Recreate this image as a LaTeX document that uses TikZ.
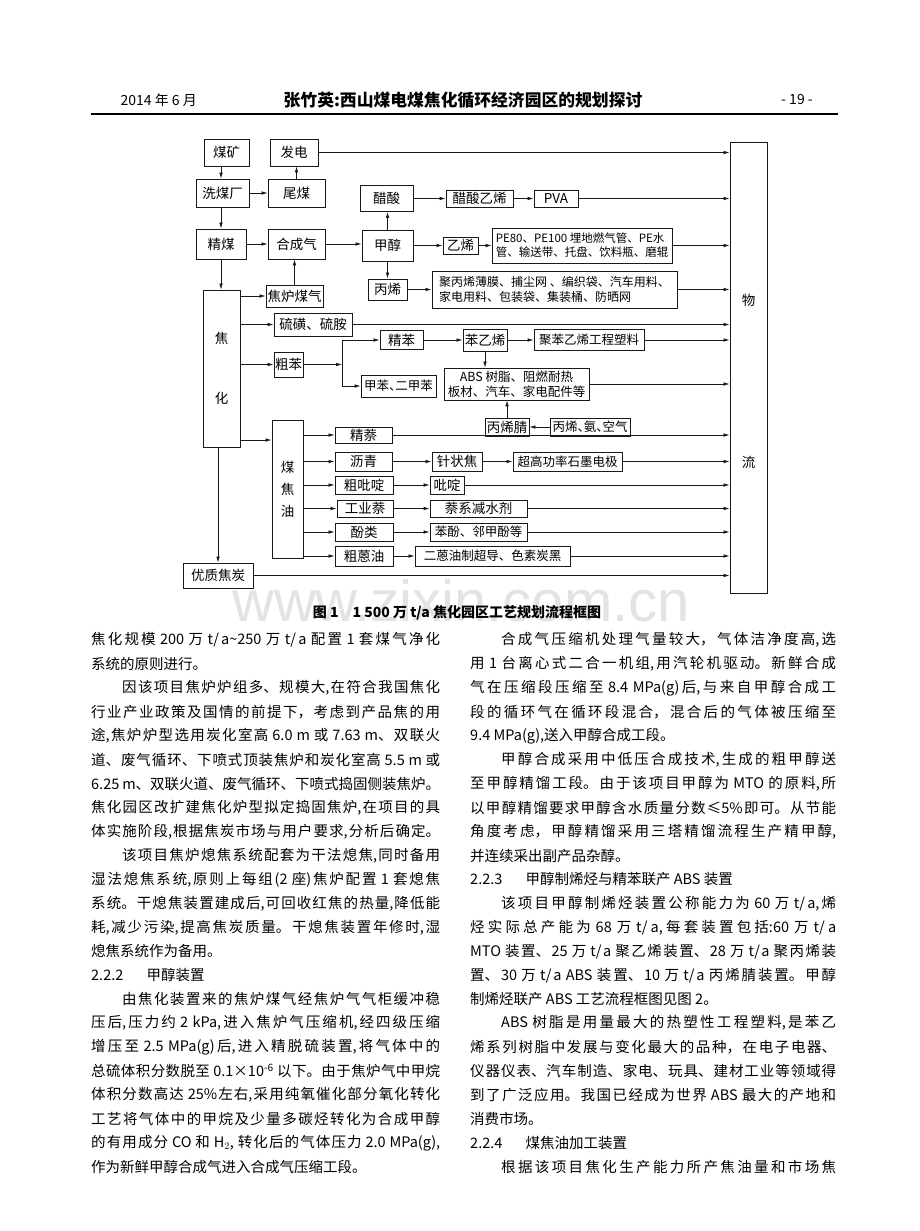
\documentclass[tikz,border=0pt]{standalone}
\usepackage{fontspec}
\setmainfont{Noto Sans CJK SC}
\newfontfamily\wmfont{Liberation Sans}
\usetikzlibrary{arrows.meta}

\XeTeXlinebreaklocale "zh"
\XeTeXlinebreakskip=0pt plus 3pt

\def\colw{349pt}
\newcommand\jline[1]{\parbox{\colw}{\parfillskip=0pt\relax #1}}
\newcommand\pline[1]{\parbox{\colw}{\parfillskip=0pt\relax\hspace*{31pt}#1}}
\newcommand\tline[1]{#1}
\newcommand\halfdun{\makebox[.5em][l]{、}}

\begin{document}
\begin{tikzpicture}[x=1pt,y=-1pt,>={Latex[length=6pt,width=3.6pt]}]
        \tikzstyle{unit}=[draw=black!90, line width=0.9pt, inner sep=1pt, align=center, font=\fontsize{13.5}{16}\selectfont]
        \tikzstyle{small}=[font=\fontsize{12.5}{14.5}\selectfont]
        \tikzstyle{flow}=[->, draw=black!90, line width=0.7pt]
        \tikzstyle{bodyline}=[anchor=west, inner sep=0pt, font=\fontsize{14.5}{17}\selectfont]

        \fill[white] (0,0) rectangle (920,1231);
        \useasboundingbox (0,0) rectangle (920,1231);

        % watermark
        \node[text=black!11, font=\wmfont\fontsize{58}{60}\selectfont] (wmark) at (461,601) {www.zixin.com.cn};

        % page head
        \node[anchor=west, font=\fontsize{14}{16}\selectfont] (date) at (117,100) {2014 年 6 月};
        \node[font=\bfseries\fontsize{16.8}{18}\selectfont] (title) at (463,100) {张竹英:西山煤电煤焦化循环经济园区的规划探讨};
        \node[font=\fontsize{14}{16}\selectfont] (page) at (797,100) {- 19 -};
        \draw[line width=1.4pt] (91,114) -- (838,114);

        % coal line
        \node[unit, minimum width=45, minimum height=27] (mine) at (226.5,152.5) {煤矿};
        \node[unit, minimum width=48, minimum height=27] (power) at (294,152.5) {发电};
        \node[unit, minimum width=53, minimum height=28] (washery) at (222.5,193) {洗煤厂};
        \node[unit, minimum width=57, minimum height=28] (tailcoal) at (296.5,193) {尾煤};
        \node[unit, minimum width=50, minimum height=30] (cleancoal) at (221,244) {精煤};
        \node[unit, minimum width=57, minimum height=30] (syngas) at (296.5,244) {合成气};

        % methanol line
        \node[unit, minimum width=53, minimum height=26] (acetic) at (386.5,198.5) {醋酸};
        \node[unit, minimum width=67, minimum height=17] (vac) at (479.5,198.5) {醋酸乙烯};
        \node[unit, minimum width=44, minimum height=17] (pva) at (556,198.5) {PVA};
        \node[unit, minimum width=51, minimum height=31] (methanol) at (387.5,245.5) {甲醇};
        \node[unit, minimum width=35, minimum height=17] (ethylene) at (460.5,245.5) {乙烯};
        \node[unit, minimum width=180, minimum height=35, align=left, font=\fontsize{11.5}{14}\selectfont] (pe) at (582,245.5) {PE80、PE100 埋地燃气管、PE水\\管、输送带、托盘、饮料瓶、磨辊};
        \node[unit, minimum width=39, minimum height=21] (propylene) at (387.5,289.5) {丙烯};
        \node[unit, minimum width=245, minimum height=37, align=left, font=\fontsize{12}{15}\selectfont] (pp) at (554.5,289.5) {聚丙烯薄膜、捕尘网 、编织袋、汽车用料、\\家电用料、包装袋、集装桶、防晒网};

        % coking line
        \node[unit, minimum width=37, minimum height=157] (coking) at (221.5,368.5) {焦\\[44pt]化};
        \node[unit, minimum width=57, minimum height=22] (cog) at (294.5,296) {焦炉煤气};
        \node[unit, minimum width=78, minimum height=23] (sulfur) at (313,324.5) {硫磺、硫胺};
        \node[unit, minimum width=29, minimum height=25] (crudebenz) at (288.5,364.5) {粗苯};
        \node[unit, minimum width=43, minimum height=19] (purebenz) at (401.5,340) {精苯};
        \node[unit, small, minimum width=75, minimum height=22] (toluene) at (398.5,386) {甲苯\halfdun 二甲苯};
        \node[unit, minimum width=44, minimum height=22] (styrene) at (485,340) {苯乙烯};
        \node[unit, small, minimum width=110, minimum height=21] (ps) at (589,340) {聚苯乙烯工程塑料};
        \node[unit, small, minimum width=145, minimum height=32] (abs) at (516.5,384) {ABS 树脂、阻燃耐热\\板材、汽车、家电配件等};
        \node[unit, minimum width=44, minimum height=18] (acn) at (507,427) {丙烯腈};
        \node[unit, small, minimum width=80, minimum height=18] (raw) at (590,427) {丙烯\halfdun 氨\halfdun 空气};

        % tar line
        \node[unit, minimum width=31, minimum height=138] (tar) at (287.5,489) {煤\\[6pt]焦\\[6pt]油};
        \node[unit, minimum width=57, minimum height=16] (naph) at (363.5,435) {精萘};
        \node[unit, minimum width=57, minimum height=19] (pitch) at (363.5,461.5) {沥青};
        \node[unit, minimum width=50, minimum height=19] (needle) at (457,461.5) {针状焦};
        \node[unit, small, minimum width=109, minimum height=19] (electrode) at (567.5,461.5) {超高功率石墨电极};
        \node[unit, minimum width=58, minimum height=18] (crudepyr) at (364,485) {粗吡啶};
        \node[unit, minimum width=34, minimum height=18] (pyr) at (447,485) {吡啶};
        \node[unit, minimum width=56, minimum height=17] (indnaph) at (365,508.5) {工业萘};
        \node[unit, minimum width=97, minimum height=17] (reducer) at (478.5,508.5) {萘系减水剂};
        \node[unit, minimum width=58, minimum height=18] (phenols) at (364,532) {酚类};
        \node[unit, small, minimum width=97, minimum height=18] (phenol) at (478.5,532) {苯酚、邻甲酚等};
        \node[unit, minimum width=58, minimum height=20] (anth) at (364,556) {粗蒽油};
        \node[unit, small, minimum width=155, minimum height=20] (blackc) at (492.5,556) {二蒽油制超导、色素炭黑};
        \node[unit, minimum width=70, minimum height=25] (coke) at (218,575.5) {优质焦炭};

        % logistics
        \node[unit, minimum width=37, minimum height=451] (logist) at (748.5,367.5) {};
        \node[font=\fontsize{13.5}{16}\selectfont] (wu) at (748.5,300) {物};
        \node[font=\fontsize{13.5}{16}\selectfont] (liu) at (748.5,462) {流};

        \draw[flow] (mine.south -| cleancoal) -- (washery.north -| cleancoal);
        \draw[flow] (washery) -- (tailcoal);
        \draw[flow] (tailcoal.north) -- (tailcoal.north |- power.south);
        \draw[flow] (washery.south -| cleancoal) -- (cleancoal.north);
        \draw[flow] (cleancoal) -- (syngas);
        \draw[flow] (syngas.east) -- (syngas.east -| methanol.west);
        \draw[flow] (cleancoal.south) -- (cleancoal.south |- coking.north);
        \draw[flow] (cog.north) -- (cog.north |- syngas.south);
        \draw[flow] (methanol.north) -- (methanol.north |- acetic.south);
        \draw[flow] (methanol.south) -- (methanol.south |- propylene.north);
        \draw[flow] (acetic) -- (vac);
        \draw[flow] (vac) -- (pva);
        \draw[flow] (methanol) -- (ethylene);
        \draw[flow] (ethylene) -- (pe);
        \draw[flow] (propylene) -- (pp);

        \foreach \dst in {cog,sulfur,crudebenz}
            \draw[flow] (coking.east |- \dst) -- (\dst.west);
        \draw[flow] (coking.east |- 0,440) -- (tar.west |- 0,440);
        \draw[flow] (coking.south -| coke) -- (coke.north);

        \coordinate (split) at (342,364.5);
        \draw[flow] (crudebenz) -- (split);
        \draw[flow] (split) |- (purebenz);
        \draw[flow] (split) |- (toluene);
        \draw[flow] (purebenz) -- (styrene);
        \draw[flow] (styrene) -- (ps);
        \draw[flow] (styrene.south) -- (styrene.south |- abs.north);
        \draw[flow] (acn.north) -- (acn.north |- abs.south);
        \draw[flow] (raw) -- (acn);

        \foreach \dst in {naph,pitch,crudepyr,indnaph,phenols,anth}
            \draw[flow] (tar.east |- \dst) -- (\dst.west);
        \foreach \a/\b in {pitch/needle,needle/electrode,crudepyr/pyr,indnaph/reducer,phenols/phenol,anth/blackc}
            \draw[flow] (\a) -- (\b);

        \foreach \src in {power,pva,pe,pp,sulfur,ps,abs,naph,electrode,pyr,reducer,phenol,blackc,coke}
            \draw[flow] (\src.east) -- (\src.east -| logist.west);

        \node[font=\bfseries\fontsize{14}{16}\selectfont] (caption) at (457,613) {图 1\quad 1 500 万 t/a 焦化园区工艺规划流程框图};

        % body text, left column
        \foreach \t [count=\i from 0] in {
            \jline{焦化规模 200 万 t/a\textasciitilde 250 万 t/a 配置 1 套煤气净化},
            \tline{系统的原则进行。},
            \pline{因该项目焦炉炉组多、规模大,在符合我国焦化},
            \jline{行业产业政策及国情的前提下，考虑到产品焦的用},
            \jline{途,焦炉炉型选用炭化室高 6.0 m 或 7.63 m、双联火},
            \jline{道、废气循环、下喷式顶装焦炉和炭化室高 5.5 m 或},
            \jline{6.25 m、双联火道、废气循环、下喷式捣固侧装焦炉。},
            \jline{焦化园区改扩建焦化炉型拟定捣固焦炉,在项目的具},
            \jline{体实施阶段,根据焦炭市场与用户要求,分析后确定。},
            \pline{该项目焦炉熄焦系统配套为干法熄焦,同时备用},
            \jline{湿法熄焦系统,原则上每组(2 座)焦炉配置 1 套熄焦},
            \jline{系统。干熄焦装置建成后,可回收红焦的热量,降低能},
            \jline{耗,减少污染,提高焦炭质量。干熄焦装置年修时,湿},
            \tline{熄焦系统作为备用。},
            \tline{2.2.2\hspace{1.6em}甲醇装置},
            \pline{由焦化装置来的焦炉煤气经焦炉气气柜缓冲稳},
            \jline{压后,压力约 2 kPa,进入焦炉气压缩机,经四级压缩},
            \jline{增压至 2.5 MPa(g)后,进入精脱硫装置,将气体中的},
            \jline{总硫体积分数脱至 0.1×10\textsuperscript{-6} 以下。由于焦炉气中甲烷},
            \jline{体积分数高达 25\%左右,采用纯氧催化部分氧化转化},
            \jline{工艺将气体中的甲烷及少量多碳烃转化为合成甲醇},
            \jline{的有用成分 CO 和 H$_2$, 转化后的气体压力 2.0 MPa(g),},
            \tline{作为新鲜甲醇合成气进入合成气压缩工段。}}
            \node[bodyline] (L-\i) at (91,640+23.95*\i) {\t};

        % body text, right column
        \def\colw{366pt}
        \foreach \t [count=\i from 0] in {
            \pline{合成气压缩机处理气量较大，气体洁净度高,选},
            \jline{用 1 台离心式二合一机组,用汽轮机驱动。新鲜合成},
            \jline{气在压缩段压缩至 8.4 MPa(g)后,与来自甲醇合成工},
            \jline{段的循环气在循环段混合，混合后的气体被压缩至},
            \tline{9.4 MPa(g),送入甲醇合成工段。},
            \pline{甲醇合成采用中低压合成技术,生成的粗甲醇送},
            \jline{至甲醇精馏工段。由于该项目甲醇为 MTO 的原料,所},
            \jline{以甲醇精馏要求甲醇含水质量分数≤5\%即可。从节能},
            \jline{角度考虑，甲醇精馏采用三塔精馏流程生产精甲醇,},
            \tline{并连续采出副产品杂醇。},
            \tline{2.2.3\hspace{1.6em}甲醇制烯烃与精苯联产 ABS 装置},
            \pline{该项目甲醇制烯烃装置公称能力为 60 万 t/a,烯},
            \jline{烃实际总产能为 68 万 t/a,每套装置包括:60 万 t/a},
            \jline{MTO 装置、25 万 t/a 聚乙烯装置、28 万 t/a 聚丙烯装},
            \jline{置、30 万 t/a ABS 装置、10 万 t/a 丙烯腈装置。甲醇},
            \tline{制烯烃联产 ABS 工艺流程框图见图 2。},
            \pline{ABS 树脂是用量最大的热塑性工程塑料,是苯乙},
            \jline{烯系列树脂中发展与变化最大的品种，在电子电器、},
            \jline{仪器仪表、汽车制造、家电、玩具、建材工业等领域得},
            \jline{到了广泛应用。我国已经成为世界 ABS 最大的产地和},
            \tline{消费市场。},
            \tline{2.2.4\hspace{1.6em}煤焦油加工装置},
            \pline{根据该项目焦化生产能力所产焦油量和市场焦}}
            \node[bodyline] (R-\i) at (470,640+23.95*\i) {\t};
\end{tikzpicture}
\end{document}
